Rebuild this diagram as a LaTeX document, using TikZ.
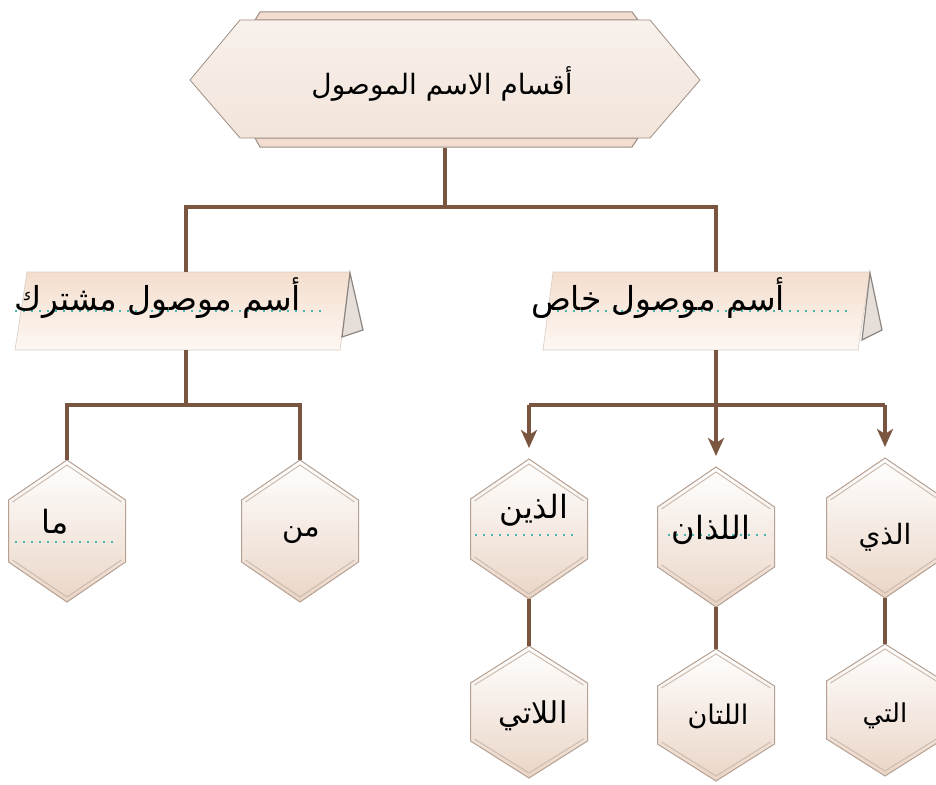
\documentclass[tikz,border=0pt]{standalone}
\usepackage{fontspec}
\usetikzlibrary{arrows.meta,calc}
\newfontfamily\arabicfont[Script=Arabic]{DejaVu Sans}
\TeXXeTstate=1
\newcommand{\artxt}[1]{{\arabicfont\beginR #1\endR}}
\definecolor{connc}{HTML}{7A553F}
\definecolor{hexline}{HTML}{B5A092}
\definecolor{hexinl}{HTML}{CDBBAE}
\definecolor{hexpeach}{HTML}{EAD5C6}
\definecolor{boxtop}{HTML}{F4DECE}
\definecolor{boxbot}{HTML}{FDF7F2}
\definecolor{boxline}{HTML}{D8CCC3}
\definecolor{flapline}{HTML}{8C8580}
\definecolor{flapfill}{HTML}{E6DFD9}
\definecolor{titleline}{HTML}{9E8E84}
\definecolor{titletop}{HTML}{F8F1EC}
\definecolor{titlebot}{HTML}{F2E4DA}
\definecolor{stripfill}{HTML}{F2DDD0}
\definecolor{dotc}{HTML}{47B5AD}
\tikzset{
  conn/.style={draw=connc, line width=3.2pt},
  arr/.style={conn, -{Stealth[length=18pt,width=16pt,inset=5pt]}, shorten >=11pt},
  hexnode/.style={minimum width=117pt, minimum height=#1, inner sep=0pt, outer sep=0pt},
  hexfill/.style={draw=hexline, line width=1pt, top color=white, middle color=white!85!hexpeach, bottom color=hexpeach},
  hexinner/.style={draw=hexinl, line width=1pt},
  boxnode/.style={minimum width=330pt, minimum height=78pt, inner sep=0pt, outer sep=0pt},
  boxfill/.style={draw=boxline, line width=0.6pt, top color=boxtop, bottom color=boxbot},
  flap/.style={draw=flapline, line width=1.2pt, fill=flapfill},
  arlab/.style={inner sep=0pt, text=black},
  dotline/.style={draw=dotc, line width=2pt, dash pattern=on 2pt off 6pt},
}
\newcommand{\drawhex}[2]{%
  \path[hexfill] (#1.north) -- ([yshift=-#2]#1.north east) -- ([yshift=#2]#1.south east)
    -- (#1.south) -- ([yshift=#2]#1.south west) -- ([yshift=-#2]#1.north west) -- cycle;
  \draw[hexinner] ([xshift=4pt,yshift=-#2-2pt]#1.north west) -- ([yshift=-5pt]#1.north)
    -- ([xshift=-4pt,yshift=-#2-2pt]#1.north east);
  \draw[hexinner] ([xshift=4pt,yshift=#2+2pt]#1.south west) -- ([yshift=5pt]#1.south)
    -- ([xshift=-4pt,yshift=#2+2pt]#1.south east);
}
\begin{document}
\begin{tikzpicture}[x=1pt,y=-1pt]
\useasboundingbox (0,0) rectangle (936,784);
\fill[white] (0,0) rectangle (936,784);

% ---------- title shape ----------
\node[minimum width=510pt, minimum height=135pt, inner sep=0pt, outer sep=0pt] (top) at (445,80) {};
\path[draw=titleline, line width=1pt, fill=stripfill] (260,12) -- (632,12) -- (638,20) -- (255,20) -- cycle;
\path[draw=titleline, line width=1pt, fill=stripfill] (255,138) -- (638,138) -- (632,147) -- (260,147) -- cycle;
\path[draw=titleline, line width=0.8pt, top color=titletop, bottom color=titlebot]
  (190,80) -- (240,20) -- (650,20) -- (700,80) -- (650,138) -- (240,138) -- cycle;
\node[arlab, font=\fontsize{28}{32}\selectfont] (ttl) at (442,84) {\artxt{أقسام الاسم الموصول}};

% ---------- label boxes ----------
\node[boxnode] (boxL) at (186,311) {};
\node[boxnode] (boxR) at (716,311) {};
\path[boxfill] (27,272) -- (350,272) -- (340,350) -- (15,350) -- cycle;
\path[flap] (350,273) -- (363,330) -- (342,337) -- cycle;
\path[boxfill] (553,272) -- (870,272) -- (858,350) -- (543,350) -- cycle;
\path[flap] (870,273) -- (882,330) -- (862,340) -- cycle;
\draw[dotline] (15,311) -- (325,311);
\draw[dotline] (557,311) -- (850,311);
\node[arlab, font=\fontsize{33}{38}\selectfont] (tL) at (158,298) {\artxt{أسم موصول مشترك}};
\node[arlab, font=\fontsize{33}{38}\selectfont] (tR) at (658,298) {\artxt{أسم موصول خاص}};

% ---------- hexagon nodes ----------
\node[hexnode=142pt] (hMa)  at (67,531) {};
\node[hexnode=142pt] (hMan) at (300,531) {};
\node[hexnode=140pt] (hA1) at (529,529) {};
\node[hexnode=140pt] (hA2) at (716,537) {};
\node[hexnode=140pt] (hA3) at (885,528) {};
\node[hexnode=132pt] (hB1) at (529,712) {};
\node[hexnode=132pt] (hB2) at (716,715) {};
\node[hexnode=132pt] (hB3) at (885,710) {};
\drawhex{hMa}{40pt}
\drawhex{hMan}{40pt}
\drawhex{hA1}{40pt}
\drawhex{hA2}{40pt}
\drawhex{hA3}{40pt}
\drawhex{hB1}{37pt}
\drawhex{hB2}{37pt}
\drawhex{hB3}{37pt}

\draw[dotline] (15,542) -- (118,542);
\draw[dotline] (475,535) -- (578,535);
\draw[dotline] (668,535) -- (772,535);

\node[arlab, font=\fontsize{32}{36}\selectfont] (tMa)  at (55,522) {\artxt{ما}};
\node[arlab, font=\fontsize{29}{33}\selectfont] (tMan) at (301,535) {\artxt{من}};
\node[arlab, font=\fontsize{32}{36}\selectfont] (tA1) at (534,510) {\artxt{الذين}};
\node[arlab, font=\fontsize{32}{36}\selectfont] (tA2) at (711,530) {\artxt{اللذان}};
\node[arlab, font=\fontsize{28}{32}\selectfont] (tA3) at (885,537) {\artxt{الذي}};
\node[arlab, font=\fontsize{30}{34}\selectfont] (tB1) at (533,716) {\artxt{اللاتي}};
\node[arlab, font=\fontsize{27}{31}\selectfont] (tB2) at (718,716) {\artxt{اللتان}};
\node[arlab, font=\fontsize{26}{30}\selectfont] (tB3) at (885,716) {\artxt{التي}};

% ---------- connectors ----------
\coordinate (jt) at (445,207);
\draw[conn] (top.south) -- (jt);
\draw[conn] (boxL.north) |- (jt) -| (boxR.north);
\draw[conn] (boxL.south) -- ++(0,55) coordinate (jl);
\draw[conn] (hMa.north) |- (jl) -| (hMan.north);
\draw[conn] (boxR.south) -- ++(0,55) coordinate (jr);
\draw[conn] (hA1.north |- jr) -- (hA3.north |- jr);
\draw[arr] (hA1.north |- jr) -- (hA1.north);
\draw[arr] (jr) -- (hA2.north);
\draw[arr] (hA3.north |- jr) -- (hA3.north);
\draw[conn] (hA1.south) -- (hB1.north);
\draw[conn] (hA2.south) -- (hB2.north);
\draw[conn] (hA3.south) -- (hB3.north);
\end{tikzpicture}
\end{document}
